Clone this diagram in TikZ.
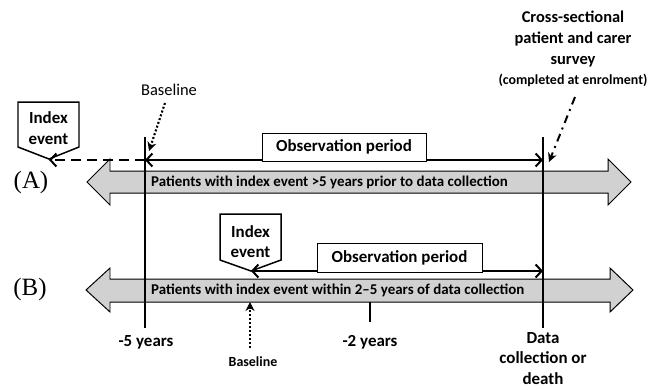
\documentclass[tikz,border=0pt]{standalone}
\usepackage{fontspec}
\setmainfont{Carlito}
\newfontfamily\tnr{Liberation Serif}
\usetikzlibrary{arrows.meta}
\begin{document}
\begin{tikzpicture}[x=1bp,y=-1bp,
  bigarrow/.style={draw=black,line width=1pt,fill=black!18},
  vline/.style={line width=2pt},
  obsline/.style={line width=2pt,{Straight Barb[length=6pt,width=13pt]}-{Straight Barb[length=6pt,width=13pt]}},
  obsbox/.style={draw,line width=1pt,fill=white,minimum width=164bp,minimum height=28bp,inner sep=0pt,font=\bfseries\fontsize{17}{20}\selectfont},
  idxshape/.style={draw,line width=1.5pt,fill=white},
  idxtext/.style={font=\bfseries\fontsize{17}{20}\selectfont,inner sep=0pt},
  pattext/.style={font=\bfseries\fontsize{15}{18}\selectfont,anchor=west,inner sep=0pt},
  lbl/.style={font=\bfseries\fontsize{17}{20.5}\selectfont,align=center,inner sep=0pt},
  abtext/.style={font=\tnr\fontsize{25}{28}\selectfont,inner sep=0pt},
]
\useasboundingbox (0,0) rectangle (654,389);

% big grey arrows
\draw[bigarrow] (87,182) -- (110,159) -- (110,171) -- (608,171) -- (608,159) -- (631,182) -- (608,205) -- (608,193) -- (110,193) -- (110,205) -- cycle;
\draw[bigarrow] (86,290) -- (110,268) -- (110,279) -- (610,279) -- (610,268) -- (633,290) -- (610,312) -- (610,302) -- (110,302) -- (110,312) -- cycle;
\node[pattext] (pa) at (151,182) {Patients with index event >5 years prior to data collection};
\node[pattext] (pb) at (151,290) {Patients with index event within 2–5 years of data collection};

\node[abtext] (la) at (31,183) {(A)};
\node[abtext] (lb) at (30,290) {(B)};

% vertical lines
\coordinate (v5t) at (145,137); \coordinate (v5b) at (145,328);
\coordinate (vdt) at (543,137); \coordinate (vdb) at (543,328);
\coordinate (v2t) at (370,302); \coordinate (v2b) at (370,322);
\draw[vline] (v5t) -- (v5b);
\draw[vline] (vdt) -- (vdb);
\draw[vline] (v2t) -- (v2b);

% (A) index event
\draw[idxshape] (18,102) -- (79,102) -- (79,147) -- (49,159) -- (18,147) -- cycle;
\coordinate (ia) at (49,160);
\node[idxtext] (ia1) at (48.5,118) {Index};
\node[idxtext] (ia2) at (48.5,139) {event};
\coordinate (oa1) at (145,160);
\coordinate (oa2) at (543,160);
\draw[line width=2pt,dash pattern=on 10pt off 6pt,-{Straight Barb[length=6pt,width=13pt]}] (oa1) -- (ia);
\draw[obsline] (oa1) -- (oa2);
\node[obsbox] (obsa) at (344,147) {Observation period};

% (B) index event
\draw[idxshape] (220,214) -- (281,214) -- (281,260) -- (251,271) -- (220,260) -- cycle;
\coordinate (ib) at (251,271);
\coordinate (ob2) at (543,271);
\node[idxtext] (ib1) at (250.5,232) {Index};
\node[idxtext] (ib2) at (250.5,252) {event};
\draw[obsline] (ib) -- (ob2);
\node[obsbox,minimum width=165bp,minimum height=29bp] (obsb) at (399.5,257.5) {Observation period};

% Baseline (A)
\node[font=\fontsize{16.5}{20}\selectfont,inner sep=0pt] (bla) at (169,90) {Baseline};
\coordinate (bla1) at (165,103);
\coordinate (bla2) at (149,151);
\draw[line width=2.2pt,dash pattern=on 2pt off 2pt,-{Stealth[length=9pt,width=9pt]}] (bla1) -- (bla2);

% Cross-sectional survey
\node[font=\bfseries\fontsize{16.5}{21}\selectfont,align=center,inner sep=0pt,anchor=north] (cs) at (573,11) {Cross-sectional\\patient and carer\\survey};
\node[font=\bfseries\fontsize{14}{17}\selectfont,inner sep=0pt] (cs2) at (573,80) {(completed at enrolment)};
\coordinate (cs3) at (575,97);
\coordinate (cs4) at (549,162);
\draw[line width=2pt,dash pattern=on 8pt off 5pt on 2pt off 5pt,-{Stealth[length=9pt,width=9pt]}] (cs3) -- (cs4);

% Baseline (B)
\coordinate (blb1) at (250,348);
\coordinate (blb2) at (250,302);
\draw[line width=2.2pt,dash pattern=on 2pt off 2pt,-{Stealth[length=9pt,width=9pt]}] (blb1) -- (blb2);
\node[font=\bfseries\fontsize{14}{17}\selectfont,inner sep=0pt] (blb) at (253,362) {Baseline};

% axis labels
\node[lbl] (m5) at (146,342) {-5 years};
\node[lbl] (m2) at (370,342) {-2 years};
\node[lbl,anchor=north] (dc) at (543,332) {Data\\collection or\\death};
\end{tikzpicture}
\end{document}
